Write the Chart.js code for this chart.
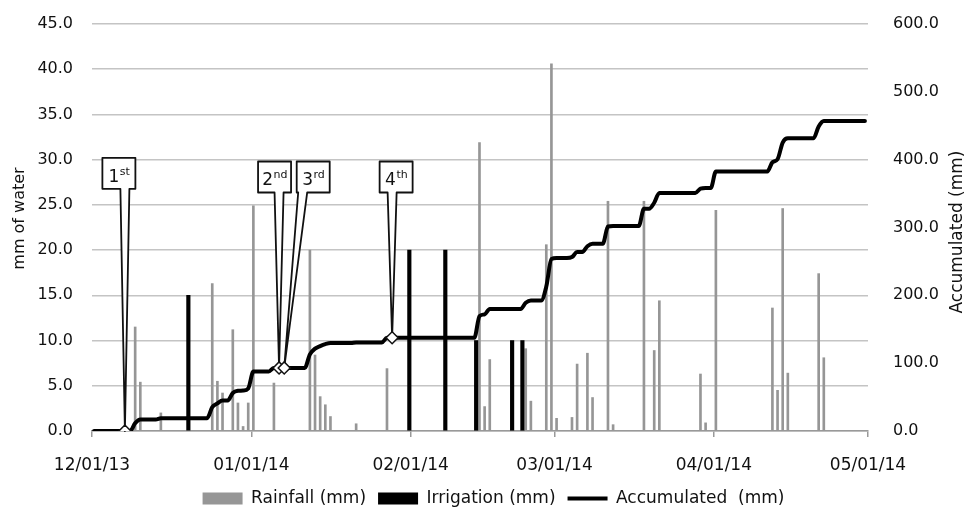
<!DOCTYPE html>
<html>
<head>
<meta charset="utf-8">
<script src="https://cdn.jsdelivr.net/npm/chart.js@4.4.1/dist/chart.umd.min.js"></script>
<style>
  html, body { margin: 0; padding: 0; background: #fff; }
  #wrap { width: 967px; height: 507px; }
</style>
</head>
<body>
<div id="wrap"><canvas id="chart" width="967" height="507"></canvas></div>
<script>
// x values are days counted from 12/01/13 (day 0)
var monthDays = [0, 31, 62, 90, 121, 151];
var monthLabels = ['12/01/13', '01/01/14', '02/01/14', '03/01/14', '04/01/14', '05/01/14'];

// daily rainfall (mm)
var rainDays = [8, 9, 13, 23, 24, 25, 27, 28, 29, 30, 31, 35, 42, 43, 44, 45, 46, 51, 57, 75, 76, 77, 84, 85, 88, 89, 90, 93, 94, 96, 97, 100, 101, 107, 109, 110, 118, 119, 121, 132, 133, 134, 135, 141, 142];
var rainMm = [11.5, 5.4, 2.0, 16.3, 5.5, 4.2, 11.2, 3.1, 0.5, 3.1, 24.9, 5.3, 20.0, 8.4, 3.8, 2.9, 1.6, 0.8, 6.9, 31.9, 2.7, 7.9, 9.1, 3.3, 20.6, 40.6, 1.4, 1.5, 7.4, 8.6, 3.7, 25.4, 0.7, 25.4, 8.9, 14.4, 6.3, 0.9, 24.4, 13.6, 4.5, 24.6, 6.4, 17.4, 8.1];

// irrigation (mm)
var irrDays = [18, 61, 68, 74, 81, 83];
var irrMm = [15.0, 20.0, 20.0, 10.0, 10.0, 10.0];

// accumulated (mm), right axis
var accDays = [0, 7, 8, 9, 12, 13, 22, 23, 24, 25, 26, 27, 28, 29, 30, 31, 34, 35, 41, 42, 43, 44, 45, 46, 50, 51, 56, 57,
  74, 75, 76, 77, 83, 84, 85, 87, 88, 89, 90, 92, 93, 94, 95, 96, 97, 99, 100, 101, 106, 107, 108, 109, 110,
  117, 118, 119, 120, 121, 131, 132, 133, 134, 135, 140, 141, 142, 150];
var accMm = [0, 0, 11.5, 16.9, 16.9, 18.9, 18.9, 35.2, 40.7, 44.9, 44.9, 56.1, 59.2, 59.7, 62.8, 87.7, 87.7, 93.0, 93.0, 113.0, 121.4, 125.2, 128.1, 129.7, 129.7, 130.5, 130.5, 137.4,
  137.4, 169.3, 172.0, 179.9, 179.9, 189.0, 192.3, 192.3, 212.9, 253.5, 254.9, 254.9, 256.4, 263.8, 263.8, 272.4, 276.1, 276.1, 301.5, 302.2, 302.2, 327.6, 327.6, 336.5, 350.9,
  350.9, 357.2, 358.1, 358.1, 382.5, 382.5, 396.1, 400.6, 425.2, 431.6, 431.6, 449.0, 457.1, 457.1];

// marked events on the accumulated line
var markDays = [6, 36, 37, 58];
var markMm = [0, 93.0, 93.0, 137.4];
var markNum = ['1', '2', '3', '4'];
var markSuffix = ['st', 'nd', 'rd', 'th'];

// where the callout boxes sit: dx in px from the marker, top in left-axis units
var calloutBoxes = [
  { dx: -6, top: 30.2 },
  { dx: -4.5, top: 29.8 },
  { dx: 29, top: 29.8 },
  { dx: 4, top: 29.8 }
];

// Excel puts the two bar series at different spots inside each day slot
var RAIN_SHIFT = 0.4;
var IRR_SHIFT = 0.75;

function points(days, vals, shift) {
  return days.map(function (d, i) { return { x: d + shift, y: vals[i] }; });
}

Chart.defaults.font.family = '"DejaVu Sans", sans-serif';
Chart.defaults.font.size = 16;
Chart.defaults.color = '#111';

// callouts go under the data so the line and markers stay on top
var calloutPlugin = {
  id: 'callouts',
  beforeDatasetsDraw: function (chart) {
    var ctx = chart.ctx;
    var pts = chart.getDatasetMeta(0).data;
    var yLeft = chart.scales.y;
    var w = 33, h = 31;
    ctx.save();
    pts.forEach(function (pt, i) {
      var box = calloutBoxes[i];
      var cx = pt.x + box.dx;
      var left = cx - w / 2, right = cx + w / 2;
      var top = yLeft.getPixelForValue(box.top), bottom = top + h;
      var bc = Math.min(Math.max(pt.x, left + 6), right - 6);

      ctx.beginPath();
      ctx.moveTo(left, top);
      ctx.lineTo(right, top);
      ctx.lineTo(right, bottom);
      ctx.lineTo(bc + 4.5, bottom);
      ctx.lineTo(pt.x, pt.y);
      ctx.lineTo(bc - 4.5, bottom);
      ctx.lineTo(left, bottom);
      ctx.closePath();
      ctx.fillStyle = '#fff';
      ctx.fill();
      ctx.lineJoin = 'round';
      ctx.lineWidth = 1.8;
      ctx.strokeStyle = '#111';
      ctx.stroke();

      // "1st", "2nd" ... with a raised suffix
      var bigFont = '17px "DejaVu Sans"', smallFont = '11px "DejaVu Sans"';
      ctx.font = bigFont;
      var w1 = ctx.measureText(markNum[i]).width;
      ctx.font = smallFont;
      var w2 = ctx.measureText(markSuffix[i]).width;
      var x0 = cx - (w1 + w2) / 2;
      ctx.fillStyle = '#111';
      ctx.textBaseline = 'alphabetic';
      ctx.textAlign = 'left';
      ctx.font = bigFont;
      ctx.fillText(markNum[i], x0, top + 24);
      ctx.font = smallFont;
      ctx.fillText(markSuffix[i], x0 + w1 + 0.5, top + 17);
    });
    ctx.restore();
  }
};

// both axis titles read bottom-to-top, which Chart.js won't do on the right side
var axisTitlePlugin = {
  id: 'axisTitles',
  afterDraw: function (chart) {
    var ctx = chart.ctx, a = chart.chartArea;
    var mid = (a.top + a.bottom) / 2;
    ctx.save();
    ctx.fillStyle = '#111';
    ctx.textAlign = 'center';
    ctx.textBaseline = 'middle';
    ctx.font = '16px "DejaVu Sans"';
    ctx.translate(a.left - 72, mid - 9);
    ctx.rotate(-Math.PI / 2);
    ctx.fillText('mm of water', 0, 0);
    ctx.setTransform(1, 0, 0, 1, 0, 0);
    ctx.font = '17px "DejaVu Sans"';
    ctx.translate(a.right + 90, mid + 4.5);
    ctx.rotate(-Math.PI / 2);
    ctx.fillText('Accumulated (mm)', 0, 0);
    ctx.restore();
  }
};

var ctx = document.getElementById('chart').getContext('2d');
var chart = new Chart(ctx, {
  type: 'bar',
  data: {
    datasets: [
      {
        type: 'line',
        label: 'events',
        data: points(markDays, markMm, RAIN_SHIFT),
        yAxisID: 'y1',
        showLine: false,
        pointStyle: 'rectRot',
        pointRadius: 6,
        pointBackgroundColor: '#fff',
        pointBorderColor: '#111',
        pointBorderWidth: 1.5
      },
      {
        type: 'line',
        label: 'Accumulated  (mm)',
        data: points(accDays, accMm, RAIN_SHIFT),
        yAxisID: 'y1',
        borderColor: '#000',
        backgroundColor: '#000',
        borderWidth: 4,
        pointRadius: 0,
        pointStyle: 'line',
        cubicInterpolationMode: 'monotone',
        borderCapStyle: 'round',
        borderJoinStyle: 'round'
      },
      {
        label: 'Irrigation (mm)',
        data: points(irrDays, irrMm, IRR_SHIFT),
        yAxisID: 'y',
        backgroundColor: '#000',
        borderWidth: 0,
        barThickness: 3.5,
        grouped: false,
        pointStyle: 'rect'
      },
      {
        label: 'Rainfall (mm)',
        data: points(rainDays, rainMm, RAIN_SHIFT),
        yAxisID: 'y',
        backgroundColor: '#969696',
        borderWidth: 0,
        barThickness: 2,
        grouped: false,
        pointStyle: 'rect'
      }
    ]
  },
  options: {
    responsive: false,
    animation: false,
    events: [],
    layout: { padding: { left: 20, right: 0, top: 24, bottom: -10 } },
    plugins: {
      tooltip: { enabled: false },
      legend: {
        position: 'bottom',
        labels: {
          font: { size: 17 },
          color: '#111',
          usePointStyle: true,
          pointStyleWidth: 40,
          boxHeight: 12,
          padding: 12,
          filter: function (item) { return item.datasetIndex !== 0; },
          sort: function (a, b) { return b.datasetIndex - a.datasetIndex; }
        }
      }
    },
    scales: {
      x: {
        type: 'linear',
        min: 0,
        max: 151,
        offset: false,
        afterBuildTicks: function (scale) {
          scale.ticks = monthDays.map(function (v) { return { value: v }; });
        },
        afterFit: function (scale) { scale.height = 47; },
        ticks: {
          autoSkip: false,
          maxRotation: 0,
          padding: 18,
          font: { size: 17 },
          callback: function (value) { return monthLabels[monthDays.indexOf(value)]; }
        },
        grid: { offset: false, drawOnChartArea: false, drawTicks: true, tickLength: 6, color: '#999', lineWidth: 1.5 },
        border: { color: '#999', width: 1.5 }
      },
      y: {
        position: 'left',
        min: 0,
        max: 45,
        afterFit: function (scale) { scale.width = 72; },
        ticks: {
          stepSize: 5,
          padding: 3,
          callback: function (v) { return v.toFixed(1); }
        },
        // invisible tick marks just push the labels away from the plot
        grid: { color: '#c4c4c4', lineWidth: 1.5, drawTicks: true, tickLength: 16, tickColor: 'rgba(0,0,0,0)' },
        border: { display: false }
      },
      y1: {
        position: 'right',
        min: 0,
        max: 600,
        afterFit: function (scale) { scale.width = 99; },
        ticks: {
          stepSize: 100,
          padding: 3,
          callback: function (v) { return v.toFixed(1); }
        },
        grid: { drawOnChartArea: false, drawTicks: true, tickLength: 22, tickColor: 'rgba(0,0,0,0)' },
        border: { display: false }
      }
    }
  },
  plugins: [calloutPlugin, axisTitlePlugin]
});
</script>
</body>
</html>
